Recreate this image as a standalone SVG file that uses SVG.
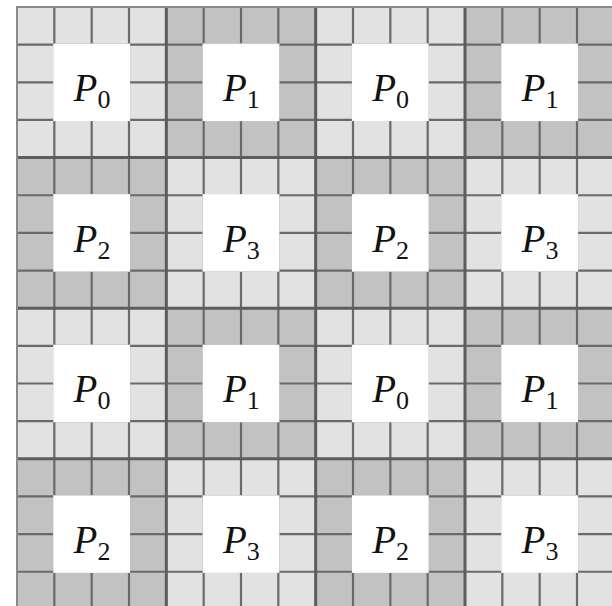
<svg xmlns="http://www.w3.org/2000/svg" xmlns:xlink="http://www.w3.org/1999/xlink" width="612" height="606" viewBox="0 0 612 606">
<style>
.lt{fill:#e2e2e2}
.dk{fill:#c2c2c2}
.in{fill:none;stroke:#6a6a6a;stroke-width:2.2}
.hole{fill:#ffffff}
.bd{fill:none;stroke:#5c5c5c;stroke-width:3}
.edge{fill:none;stroke:#8a8a8a;stroke-width:2}
.lbl{font-family:"Liberation Serif","Times New Roman",serif;font-size:39px;fill:#111;text-anchor:middle}
.p{font-style:italic}
.s{font-size:26px}
</style>
<defs>
<g id="inner">
<path class="in" d="M0 37.65H149.33M0 75.3H149.33M0 112.95H149.33M37.33 0V150.6M74.67 0V150.6M112 0V150.6"/>
<rect class="hole" x="36.2" y="36.5" width="76.9" height="77.6"/>
</g>
</defs>
<rect width="612" height="606" fill="#ffffff"/>
<g id="blocks">
<g id="b00" transform="translate(17,7)"><rect class="lt" width="149.33" height="150.6"/><use xlink:href="#inner"/><text class="lbl" x="75" y="94.3"><tspan class="p">P</tspan><tspan class="s" dy="7">0</tspan></text></g>
<g id="b01" transform="translate(166.33,7)"><rect class="dk" width="149.33" height="150.6"/><use xlink:href="#inner"/><text class="lbl" x="75" y="94.3"><tspan class="p">P</tspan><tspan class="s" dy="7">1</tspan></text></g>
<g id="b02" transform="translate(315.67,7)"><rect class="lt" width="149.33" height="150.6"/><use xlink:href="#inner"/><text class="lbl" x="75" y="94.3"><tspan class="p">P</tspan><tspan class="s" dy="7">0</tspan></text></g>
<g id="b03" transform="translate(465,7)"><rect class="dk" width="149.33" height="150.6"/><use xlink:href="#inner"/><text class="lbl" x="75" y="94.3"><tspan class="p">P</tspan><tspan class="s" dy="7">1</tspan></text></g>
<g id="b10" transform="translate(17,157.6)"><rect class="dk" width="149.33" height="150.6"/><use xlink:href="#inner"/><text class="lbl" x="75" y="94.3"><tspan class="p">P</tspan><tspan class="s" dy="7">2</tspan></text></g>
<g id="b11" transform="translate(166.33,157.6)"><rect class="lt" width="149.33" height="150.6"/><use xlink:href="#inner"/><text class="lbl" x="75" y="94.3"><tspan class="p">P</tspan><tspan class="s" dy="7">3</tspan></text></g>
<g id="b12" transform="translate(315.67,157.6)"><rect class="dk" width="149.33" height="150.6"/><use xlink:href="#inner"/><text class="lbl" x="75" y="94.3"><tspan class="p">P</tspan><tspan class="s" dy="7">2</tspan></text></g>
<g id="b13" transform="translate(465,157.6)"><rect class="lt" width="149.33" height="150.6"/><use xlink:href="#inner"/><text class="lbl" x="75" y="94.3"><tspan class="p">P</tspan><tspan class="s" dy="7">3</tspan></text></g>
<g id="b20" transform="translate(17,308.2)"><rect class="lt" width="149.33" height="150.6"/><use xlink:href="#inner"/><text class="lbl" x="75" y="94.3"><tspan class="p">P</tspan><tspan class="s" dy="7">0</tspan></text></g>
<g id="b21" transform="translate(166.33,308.2)"><rect class="dk" width="149.33" height="150.6"/><use xlink:href="#inner"/><text class="lbl" x="75" y="94.3"><tspan class="p">P</tspan><tspan class="s" dy="7">1</tspan></text></g>
<g id="b22" transform="translate(315.67,308.2)"><rect class="lt" width="149.33" height="150.6"/><use xlink:href="#inner"/><text class="lbl" x="75" y="94.3"><tspan class="p">P</tspan><tspan class="s" dy="7">0</tspan></text></g>
<g id="b23" transform="translate(465,308.2)"><rect class="dk" width="149.33" height="150.6"/><use xlink:href="#inner"/><text class="lbl" x="75" y="94.3"><tspan class="p">P</tspan><tspan class="s" dy="7">1</tspan></text></g>
<g id="b30" transform="translate(17,458.8)"><rect class="dk" width="149.33" height="150.6"/><use xlink:href="#inner"/><text class="lbl" x="75" y="94.3"><tspan class="p">P</tspan><tspan class="s" dy="7">2</tspan></text></g>
<g id="b31" transform="translate(166.33,458.8)"><rect class="lt" width="149.33" height="150.6"/><use xlink:href="#inner"/><text class="lbl" x="75" y="94.3"><tspan class="p">P</tspan><tspan class="s" dy="7">3</tspan></text></g>
<g id="b32" transform="translate(315.67,458.8)"><rect class="dk" width="149.33" height="150.6"/><use xlink:href="#inner"/><text class="lbl" x="75" y="94.3"><tspan class="p">P</tspan><tspan class="s" dy="7">2</tspan></text></g>
<g id="b33" transform="translate(465,458.8)"><rect class="lt" width="149.33" height="150.6"/><use xlink:href="#inner"/><text class="lbl" x="75" y="94.3"><tspan class="p">P</tspan><tspan class="s" dy="7">3</tspan></text></g>
</g>
<g id="connectors">
<path class="bd" d="M166.33 7V610M315.67 7V610M465 7V610M17 157.6H612M17 308.2H612M17 458.8H612"/>
<path class="edge" d="M17 610V7H612"/>
</g>
</svg>
